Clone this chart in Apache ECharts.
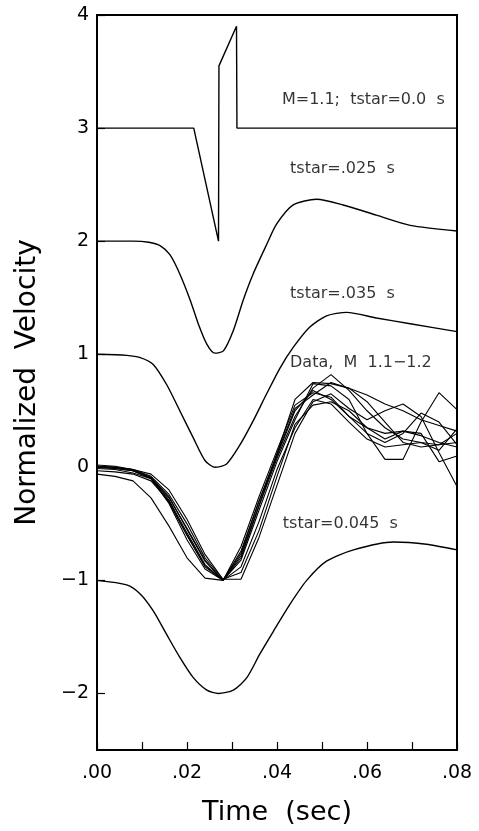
<!DOCTYPE html>
<html>
<head>
<meta charset="utf-8">
<script src="https://cdn.jsdelivr.net/npm/echarts@6/dist/echarts.min.js"></script>
<style>
html,body{margin:0;padding:0;background:#fff;}
#chart{width:479px;height:831px;}
</style>
</head>
<body>
<div id="chart"></div>
<script>
// Synthetic curves (time in s, normalized velocity)
const tstar0_t = [0, 0.0215, 0.027, 0.0271, 0.031, 0.0311, 0.08];
const tstar0_v = [3, 3, 2, 3.55, 3.9, 3, 3];

const tstar025_t = [0, 0.008, 0.0115, 0.014, 0.0162, 0.0184, 0.0207, 0.0225, 0.0244, 0.0262, 0.0281, 0.0303, 0.0325, 0.0347, 0.0377, 0.0399, 0.0436, 0.0488, 0.0547, 0.0621, 0.0696, 0.08];
const tstar025_v = [2, 2, 1.99, 1.96, 1.88, 1.71, 1.48, 1.27, 1.09, 1.01, 1.03, 1.21, 1.48, 1.71, 1.97, 2.15, 2.32, 2.37, 2.32, 2.23, 2.14, 2.09];

const tstar035_t = [0, 0.0066, 0.0096, 0.0125, 0.0155, 0.0184, 0.0214, 0.024, 0.0262, 0.0288, 0.0318, 0.0347, 0.0377, 0.0407, 0.0436, 0.0473, 0.051, 0.0555, 0.0621, 0.0696, 0.08];
const tstar035_v = [1, 0.99, 0.97, 0.91, 0.73, 0.50, 0.26, 0.06, 0.0, 0.03, 0.20, 0.41, 0.65, 0.88, 1.06, 1.24, 1.34, 1.37, 1.32, 1.27, 1.20];

const tstar045_t = [0, 0.0066, 0.0096, 0.0125, 0.0155, 0.0184, 0.0214, 0.0244, 0.027, 0.0303, 0.0333, 0.0362, 0.0392, 0.0429, 0.0466, 0.051, 0.057, 0.0659, 0.0732, 0.08];
const tstar045_v = [-1, -1.04, -1.12, -1.27, -1.48, -1.68, -1.86, -1.97, -2.0, -1.97, -1.86, -1.65, -1.45, -1.21, -1.0, -0.83, -0.73, -0.66, -0.68, -0.73];

// Observed data traces, M 1.1-1.2
const dataTime = [0, 0.004, 0.008, 0.012, 0.016, 0.020, 0.024, 0.028, 0.032, 0.036, 0.040, 0.044, 0.048, 0.052, 0.056, 0.060, 0.064, 0.068, 0.072, 0.076, 0.080];
const trace1 = [-0.06, -0.08, -0.12, -0.27, -0.52, -0.80, -0.98, -1.0, -0.70, -0.26, 0.15, 0.55, 0.66, 0.62, 0.45, 0.35, 0.30, 0.32, 0.28, 0.22, 0.18];
const trace2 = [0.0, -0.01, -0.03, -0.09, -0.26, -0.55, -0.83, -1.0, -0.78, -0.34, 0.08, 0.45, 0.70, 0.82, 0.68, 0.50, 0.35, 0.25, 0.22, 0.20, 0.22];
const trace3 = [0.02, 0.01, -0.02, -0.09, -0.29, -0.58, -0.86, -1.0, -0.82, -0.38, 0.05, 0.42, 0.74, 0.72, 0.60, 0.30, 0.07, 0.07, 0.40, 0.66, 0.51];
const trace4 = [0.0, 0.0, -0.03, -0.10, -0.31, -0.60, -0.88, -1.0, -0.80, -0.34, 0.12, 0.60, 0.75, 0.74, 0.70, 0.64, 0.56, 0.50, 0.42, 0.37, 0.32];
const trace5 = [-0.03, -0.04, -0.06, -0.12, -0.30, -0.60, -0.87, -1.0, -0.74, -0.30, 0.10, 0.50, 0.68, 0.60, 0.45, 0.30, 0.22, 0.30, 0.48, 0.40, 0.20];
const trace6 = [0.01, 0.0, -0.02, -0.08, -0.24, -0.50, -0.80, -0.99, -0.99, -0.62, -0.16, 0.30, 0.58, 0.65, 0.52, 0.42, 0.50, 0.56, 0.45, 0.13, -0.17];
const trace7 = [0.0, -0.01, -0.03, -0.10, -0.32, -0.64, -0.90, -1.0, -0.88, -0.48, -0.02, 0.35, 0.60, 0.56, 0.40, 0.25, 0.18, 0.20, 0.22, 0.15, 0.34];
const trace8 = [-0.01, -0.02, -0.05, -0.10, -0.27, -0.54, -0.82, -1.0, -0.76, -0.30, 0.12, 0.52, 0.64, 0.75, 0.70, 0.58, 0.40, 0.22, 0.18, 0.20, 0.30];
const trace9 = [0.01, 0.0, -0.02, -0.06, -0.20, -0.46, -0.77, -0.99, -0.93, -0.56, -0.08, 0.38, 0.55, 0.58, 0.50, 0.35, 0.25, 0.32, 0.30, 0.05, 0.10];
const traces = [trace1, trace2, trace3, trace4, trace5, trace6, trace7, trace8, trace9];

// Curve labels: [time, value, text]
const annotations = [
  [0.0411, 3.25, 'M=1.1;  tstar=0.0  s'],
  [0.0429, 2.64, 'tstar=.025  s'],
  [0.0429, 1.53, 'tstar=.035  s'],
  [0.0429, 0.92, 'Data,  M  1.1\u22121.2'],
  [0.0413, -0.50, 'tstar=0.045  s']
];

const xTickLabels = ['.00', '.02', '.04', '.06', '.08'];
const yTickValues = [-2, -1, 0, 1, 2, 3, 4];

const FONT = 'DejaVu Sans';
function pairs(t, v) { return t.map((x, i) => [x, v[i]]); }

const series = [];
const synth = [[tstar0_t, tstar0_v, false], [tstar025_t, tstar025_v, true], [tstar035_t, tstar035_v, true], [tstar045_t, tstar045_v, true]];
synth.forEach(([t, v, sm]) => {
  series.push({
    type: 'line', data: pairs(t, v), smooth: sm ? 0.25 : false, symbol: 'none',
    lineStyle: { color: '#000', width: 1.4 }, silent: true
  });
});
traces.forEach(tr => {
  series.push({
    type: 'line', data: pairs(dataTime, tr), symbol: 'none',
    lineStyle: { color: '#000', width: 1.1 }, silent: true
  });
});
series.push({
  type: 'scatter', data: annotations, symbolSize: 0, silent: true,
  label: {
    show: true, position: 'right', distance: 0, formatter: p => p.data[2],
    color: '#000', fontFamily: FONT, fontSize: 16
  }
});

const chart = echarts.init(document.getElementById('chart'), null, { renderer: 'canvas' });
chart.setOption({
  animation: false,
  backgroundColor: '#fff',
  grid: { left: 97, right: 22, top: 15, bottom: 77, show: true, borderColor: '#000', borderWidth: 2, backgroundColor: 'transparent' },
  xAxis: {
    type: 'value', min: 0, max: 0.08, interval: 0.01,
    name: 'Time  (sec)', nameLocation: 'middle', nameGap: 49,
    nameTextStyle: { fontFamily: FONT, fontSize: 27, color: '#000' },
    axisLine: { show: true, onZero: false, lineStyle: { color: '#000', width: 2 } },
    axisTick: { show: true, inside: true, length: 8, lineStyle: { color: '#000', width: 1.2 } },
    axisLabel: {
      color: '#000', fontFamily: FONT, fontSize: 19, margin: 14,
      formatter: v => { const k = Math.round(v * 100); return k % 2 === 0 ? xTickLabels[k / 2] : ''; }
    },
    splitLine: { show: false }
  },
  yAxis: {
    type: 'value', min: -2.5, max: 4,
    name: 'Normalized  Velocity', nameLocation: 'middle', nameGap: 55,
    nameTextStyle: { fontFamily: FONT, fontSize: 28, color: '#000' },
    axisLine: { show: true, onZero: false, lineStyle: { color: '#000', width: 2 } },
    axisTick: { show: true, inside: true, length: 8, customValues: yTickValues, lineStyle: { color: '#000', width: 1.2 } },
    axisLabel: {
      color: '#000', fontFamily: FONT, fontSize: 19, margin: 8, customValues: yTickValues,
      formatter: v => (v < 0 ? '\u2212' + Math.abs(v) : String(v))
    },
    splitLine: { show: false }
  },
  series: series
});
</script>
</body>
</html>
